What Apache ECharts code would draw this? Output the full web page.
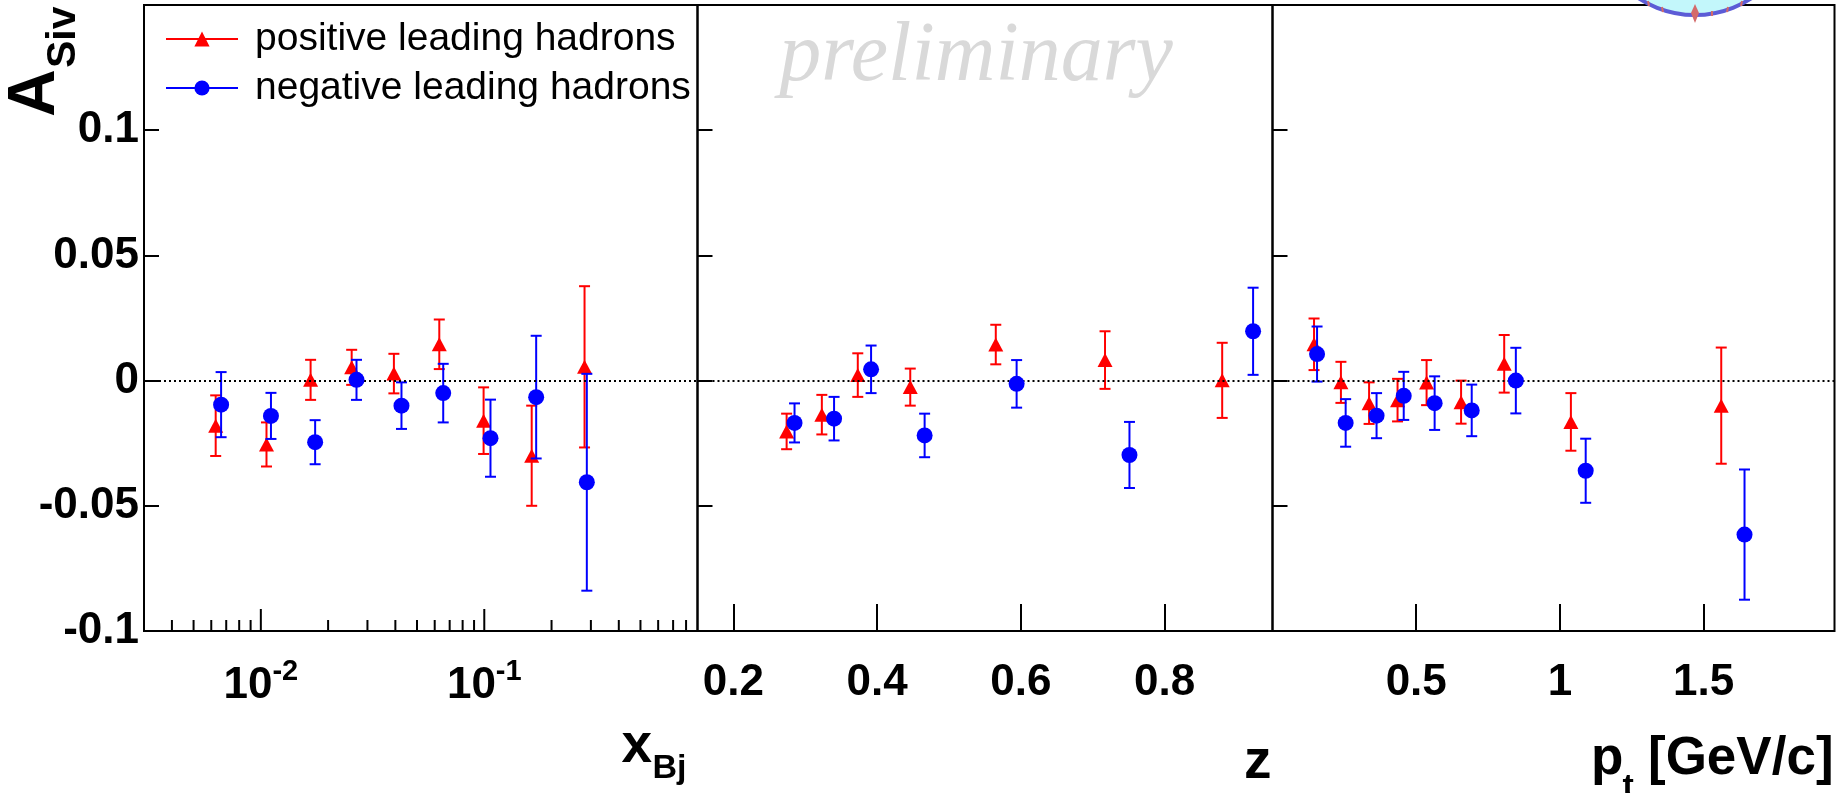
<!DOCTYPE html>
<html><head><meta charset="utf-8">
<script src="https://cdn.jsdelivr.net/npm/echarts@6/dist/echarts.min.js"></script>
<style>html,body{margin:0;padding:0;background:#fff}#c{width:1842px;height:793px}</style>
</head><body><div id="c"></div>
<script>
// ---- data ----
const xbjPosX   = [0.00628, 0.0106, 0.0167, 0.0255, 0.0394, 0.0629, 0.0993, 0.163, 0.281];
const xbjPosY   = [-0.0180, -0.0255, 0.0003, 0.0053, 0.0028, 0.0145, -0.0160, -0.0300, 0.0055];
const xbjPosErr = [0.0121, 0.0088, 0.0080, 0.0070, 0.0079, 0.0099, 0.0133, 0.0200, 0.0322];
const xbjNegX   = [0.00664, 0.0111, 0.0175, 0.0268, 0.0426, 0.0655, 0.1066, 0.1707, 0.2877];
const xbjNegY   = [-0.0096, -0.0141, -0.0246, 0.0003, -0.0100, -0.0050, -0.0230, -0.0066, -0.0406];
const xbjNegErr = [0.0130, 0.0092, 0.0088, 0.0080, 0.0093, 0.0117, 0.0154, 0.0245, 0.0433];

const zPosX   = [0.274, 0.323, 0.373, 0.446, 0.565, 0.717, 0.880];
const zPosY   = [-0.0203, -0.0136, 0.0022, -0.0026, 0.0144, 0.0082, 0.0001];
const zPosErr = [0.0071, 0.0079, 0.0087, 0.0074, 0.0079, 0.0115, 0.0150];
const zNegX   = [0.285, 0.340, 0.3915, 0.466, 0.594, 0.751, 0.923];
const zNegY   = [-0.0169, -0.0152, 0.0045, -0.0219, -0.0013, -0.0297, 0.0197];
const zNegErr = [0.0078, 0.0087, 0.0095, 0.0087, 0.0095, 0.0132, 0.0174];

const ptPosX   = [0.1445, 0.238, 0.336, 0.435, 0.536, 0.656, 0.806, 1.038, 1.561];
const ptPosY   = [0.0145, -0.0007, -0.0090, -0.0078, -0.0008, -0.0086, 0.0067, -0.0165, -0.0100];
const ptPosErr = [0.0103, 0.0082, 0.0083, 0.0085, 0.0090, 0.0086, 0.0115, 0.0115, 0.0232];
const ptNegX   = [0.155, 0.2545, 0.362, 0.4565, 0.564, 0.693, 0.8465, 1.0895, 1.642];
const ptNegY   = [0.0106, -0.0169, -0.0140, -0.0061, -0.0090, -0.0119, 0.0000, -0.0360, -0.0615];
const ptNegErr = [0.0110, 0.0095, 0.0090, 0.0096, 0.0107, 0.0103, 0.0131, 0.0128, 0.0260];

// axis tick values
const logMajorTicks = [0.01, 0.1];
const logMinorTicks = [0.004, 0.005, 0.006, 0.007, 0.008, 0.009,
                       0.02, 0.03, 0.04, 0.05, 0.06, 0.07, 0.08, 0.09,
                       0.2, 0.3, 0.4, 0.5, 0.6, 0.7, 0.8];
const yTickStep = 0.05;

const posName = 'positive leading hadrons';
const negName = 'negative leading hadrons';

// ---- build ----
const FONT = '"Liberation Sans", Arial, Helvetica, sans-serif';
const RED = '#ff0000', BLUE = '#0000ff';
const zip = (xs, ys, es) => xs.map((x, i) => es ? [x, ys[i], es[i]] : [x, ys[i]]);

const panels = [
  {pos: [xbjPosX, xbjPosY, xbjPosErr], neg: [xbjNegX, xbjNegY, xbjNegErr]},
  {pos: [zPosX, zPosY, zPosErr], neg: [zNegX, zNegY, zNegErr]},
  {pos: [ptPosX, ptPosY, ptPosErr], neg: [ptNegX, ptNegY, ptNegErr]}
];

const gridBase = {show: true, borderColor: '#000', borderWidth: 2, top: 5, height: 626,
                  containLabel: false, outerBoundsMode: 'none'};
const grids = [
  Object.assign({}, gridBase, {left: 144, width: 553.5}),
  Object.assign({}, gridBase, {left: 697.5, width: 575}),
  Object.assign({}, gridBase, {left: 1272.5, width: 562})
];

const labelStyle = {fontSize: 44, fontWeight: 'bold', fontFamily: FONT, color: '#000'};
const tickStyle = {color: '#000', width: 2};

const xAxes = [
  {
    type: 'log', logBase: 10, gridIndex: 0, min: 0.003, max: 0.9,
    axisLine: {show: false, onZero: false}, axisTick: {show: false}, splitLine: {show: false},
    axisLabel: {
      showMinLabel: false, showMaxLabel: false, margin: 26, color: '#000',
      formatter: v => '{b|10}{s|' + Math.round(Math.log10(v)) + '}',
      rich: {
        b: {fontSize: 44, fontWeight: 'bold', fontFamily: FONT, color: '#000', padding: [7, 0, 0, 0]},
        s: {fontSize: 29, fontWeight: 'bold', fontFamily: FONT, color: '#000', verticalAlign: 'top'}
      }
    }
  },
  {
    type: 'value', gridIndex: 1, min: 0.15, max: 0.95, splitNumber: 4, minInterval: 0.2, maxInterval: 0.2,
    axisLine: {show: false, onZero: false}, splitLine: {show: false},
    axisTick: {show: true, inside: true, length: 27, lineStyle: tickStyle},
    axisLabel: Object.assign({showMinLabel: false, showMaxLabel: false, margin: 30}, labelStyle)
  },
  {
    type: 'value', gridIndex: 2, min: 0, max: 1.955, splitNumber: 4, minInterval: 0.5, maxInterval: 0.5,
    axisLine: {show: false, onZero: false}, splitLine: {show: false},
    axisTick: {show: true, inside: true, length: 27, lineStyle: tickStyle},
    axisLabel: Object.assign({showMinLabel: false, showMaxLabel: false, margin: 30}, labelStyle)
  }
];

const yAxes = [0, 1, 2].map(i => ({
  type: 'value', gridIndex: i, min: -0.1, max: 0.15, interval: yTickStep,
  axisLine: {show: false, onZero: false}, splitLine: {show: false},
  axisTick: {show: true, inside: true, length: 15, lineStyle: tickStyle},
  axisLabel: Object.assign({show: i === 0, showMaxLabel: false, margin: 5, padding: [10, 0, 0, 0]}, labelStyle)
}));

function errRender(color) {
  return function (params, api) {
    const x = api.value(0), y = api.value(1), e = api.value(2);
    const t = api.coord([x, y + e]), b = api.coord([x, y - e]);
    const c = 5.5;
    const st = {stroke: color, lineWidth: 2};
    return {type: 'group', children: [
      {type: 'line', shape: {x1: t[0], y1: t[1], x2: b[0], y2: b[1]}, style: st},
      {type: 'line', shape: {x1: t[0] - c, y1: t[1], x2: t[0] + c, y2: t[1]}, style: st},
      {type: 'line', shape: {x1: b[0] - c, y1: b[1], x2: b[0] + c, y2: b[1]}, style: st}
    ]};
  };
}
function tickRender(len) {
  return function (params, api) {
    const p = api.coord([api.value(0), -0.1]);
    return {type: 'line', shape: {x1: p[0], y1: p[1], x2: p[0], y2: p[1] - len},
            style: {stroke: '#000', lineWidth: 2}};
  };
}

const series = [];
panels.forEach((p, i) => {
  series.push({
    type: 'line', name: posName, xAxisIndex: i, yAxisIndex: i, data: zip(p.pos[0], p.pos[1]),
    symbol: 'triangle', symbolSize: [15, 14], showSymbol: true, silent: true, z: 3,
    itemStyle: {color: RED}, lineStyle: {color: RED, width: 0, opacity: 0}, emphasis: {disabled: true}
  });
  series.push({
    type: 'line', name: negName, xAxisIndex: i, yAxisIndex: i, data: zip(p.neg[0], p.neg[1]),
    symbol: 'circle', symbolSize: 16, showSymbol: true, silent: true, z: 5,
    itemStyle: {color: BLUE}, lineStyle: {color: BLUE, width: 0, opacity: 0}, emphasis: {disabled: true}
  });
  series.push({
    type: 'custom', name: posName, xAxisIndex: i, yAxisIndex: i, z: 2, silent: true,
    data: zip(p.pos[0], p.pos[1], p.pos[2]), renderItem: errRender(RED)
  });
  series.push({
    type: 'custom', name: negName, xAxisIndex: i, yAxisIndex: i, z: 4, silent: true,
    data: zip(p.neg[0], p.neg[1], p.neg[2]), renderItem: errRender(BLUE)
  });
  series.push({
    type: 'line', name: '_zero' + i, xAxisIndex: i, yAxisIndex: i, data: [], z: 1, silent: true,
    markLine: {silent: true, symbol: ['none', 'none'], label: {show: false}, animation: false,
      lineStyle: {color: '#000', width: 2, type: [2, 3]}, emphasis: {disabled: true},
      data: [{yAxis: 0}]}
  });
});
series.push({type: 'custom', name: '_major', xAxisIndex: 0, yAxisIndex: 0, z: 1, silent: true,
  data: logMajorTicks.map(v => [v]), renderItem: tickRender(22)});
series.push({type: 'custom', name: '_minor', xAxisIndex: 0, yAxisIndex: 0, z: 1, silent: true,
  data: logMinorTicks.map(v => [v]), renderItem: tickRender(11)});

const txt = (x, y, text, size, extra) => ({
  type: 'text', x: x, y: y, z: 50,
  style: Object.assign({text: text, font: 'bold ' + size + 'px ' + FONT, fill: '#000',
    textAlign: 'left', verticalAlign: 'middle'}, extra || {})
});

const option = {
  animation: false,
  backgroundColor: '#fff',
  grid: grids,
  xAxis: xAxes,
  yAxis: yAxes,
  legend: {
    data: [posName, negName], orient: 'vertical', left: 165, top: 19, padding: 0,
    itemWidth: 72, itemHeight: 19, itemGap: 9, selectedMode: false,
    lineStyle: {width: 2, opacity: 1},
    textStyle: {fontSize: 39, fontFamily: FONT, color: '#000', padding: [0, 0, 0, 12], lineHeight: 40}
  },
  series: series,
  graphic: [
    {type: 'text', x: 976, y: 58, z: 0, silent: true,
     style: {text: 'preliminary', font: 'italic 84px "Liberation Serif", "Times New Roman", serif',
             fill: '#d9d9d9', textAlign: 'center', verticalAlign: 'middle'}},
    {type: 'group', x: 57, y: 117, rotation: Math.PI / 2, z: 50, children: [
      txt(0, -21, 'A', 66),
      txt(49, 7, 'Siv', 41)
    ]},
    txt(621.5, 747, 'x', 55),
    txt(652.5, 768.5, 'Bj', 34),
    txt(1244, 763, 'z', 55),
    txt(1591, 759.5, 'p', 53),
    txt(1622.5, 787.5, 't', 34),
    txt(1648, 759.5, '[GeV/c]', 53),
    {type: 'circle', z: 100, silent: true, shape: {cx: 1695, cy: -88, r: 103},
     style: {fill: '#c3f7fb', stroke: '#5c5cd6', lineWidth: 4}},
    {type: 'polygon', z: 101, silent: true,
     shape: {points: [[1695, 4], [1699, 13], [1695, 23], [1691, 13]]}, style: {fill: '#d46a6a'}},
    {type: 'line', z: 101, silent: true, shape: {x1: 1648, y1: 1, x2: 1649, y2: 6}, style: {stroke: '#d46a6a', lineWidth: 2}},
    {type: 'line', z: 101, silent: true, shape: {x1: 1662, y1: 7, x2: 1663, y2: 12}, style: {stroke: '#d46a6a', lineWidth: 2}},
    {type: 'line', z: 101, silent: true, shape: {x1: 1712, y1: 11, x2: 1712, y2: 16}, style: {stroke: '#d46a6a', lineWidth: 2}},
    {type: 'line', z: 101, silent: true, shape: {x1: 1728, y1: 7, x2: 1727, y2: 12}, style: {stroke: '#d46a6a', lineWidth: 2}},
    {type: 'line', z: 101, silent: true, shape: {x1: 1742, y1: 1, x2: 1741, y2: 6}, style: {stroke: '#d46a6a', lineWidth: 2}}
  ]
};

const chart = echarts.init(document.getElementById('c'), null, {renderer: 'canvas'});
chart.setOption(option);
</script></body></html>
